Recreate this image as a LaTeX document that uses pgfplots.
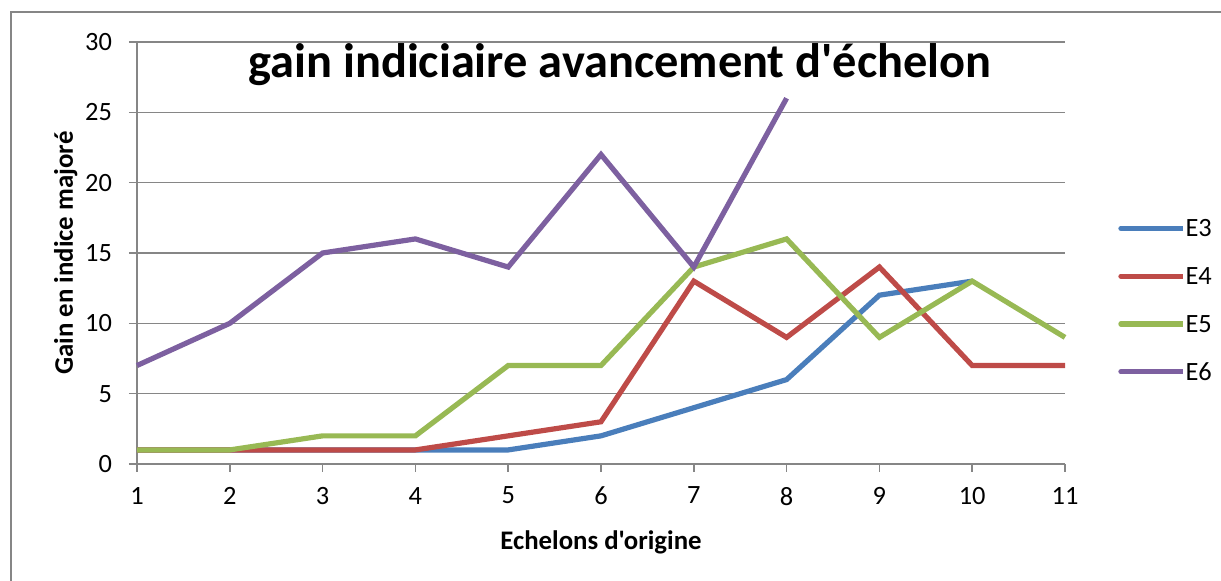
\documentclass[border=0pt]{standalone}
\usepackage{fontspec}
\setmainfont{Carlito}[Ligatures=TeXOff]
\usepackage{pgfplots}
\pgfplotsset{compat=1.18}
\definecolor{cE3}{HTML}{4A7EBB}
\definecolor{cE4}{HTML}{BE4B48}
\definecolor{cE5}{HTML}{98B954}
\definecolor{cE6}{HTML}{7D60A0}
\definecolor{gridg}{HTML}{868686}
\begin{document}
\begin{tikzpicture}
\path[use as bounding box] (0pt,0pt) rectangle (610.5pt,290.5pt);
\draw[gridg,line width=1pt] (5.5pt,0pt) -- (5.5pt,284.5pt) -- (610.5pt,284.5pt);
\begin{axis}[
  at={(68.5pt,58.5pt)}, anchor=origin,
  scale only axis, width=464pt, height=211pt,
  xmin=1, xmax=11, ymin=0, ymax=30,
  xtick={1,...,11}, ytick={0,5,...,30},
  axis x line*=bottom, axis y line*=left,
  axis line style={gridg, line width=0.8pt, -},
  ymajorgrids, grid style={gridg, line width=0.8pt},
  tick style={gridg, line width=0.8pt},
  tick align=outside, major tick length=4pt,
  /pgf/number format/assume math mode=true,
  ticklabel style={font=\fontsize{13.2}{15}\selectfont},
  xticklabel style={yshift=-4pt},
  yticklabel style={xshift=-5pt},
  xlabel={\bfseries Echelons d'origine}, xlabel style={font=\fontsize{13.4}{15}\selectfont, yshift=-6pt},
  ylabel={\bfseries Gain en indice majoré}, ylabel style={font=\fontsize{13.4}{15}\selectfont, yshift=-3pt},
  clip=false,
  legend style={at={(1.057,0.616)}, anchor=north west, draw=none, fill=none, inner sep=0pt,
    font=\fontsize{13.2}{15}\selectfont, row sep=0pt,
    nodes={inner sep=0pt, minimum height=23.9pt, text depth=0pt}},
  legend cell align=left,
  legend image code/.code={\draw[#1, line cap=round] (0pt,0pt) -- (28pt,0pt);
    \path (0pt,0pt) -- (31pt,0pt);},
  every axis plot/.append style={line width=2.6pt, line join=miter},
]
\addplot[cE3] coordinates {(1,1)(2,1)(3,1)(4,1)(5,1)(6,2)(7,4)(8,6)(9,12)(10,13)};
\addlegendentry{E3}
\addplot[cE4] coordinates {(1,1)(2,1)(3,1)(4,1)(5,2)(6,3)(7,13)(8,9)(9,14)(10,7)(11,7)};
\addlegendentry{E4}
\addplot[cE5] coordinates {(1,1)(2,1)(3,2)(4,2)(5,7)(6,7)(7,14)(8,16)(9,9)(10,13)(11,9)};
\addlegendentry{E5}
\addplot[cE6] coordinates {(1,7)(2,10)(3,15)(4,16)(5,14)(6,22)(7,14)(8,26)};
\addlegendentry{E6}
\end{axis}
\node[font=\fontsize{24.2}{28}\selectfont\bfseries] at (310pt,258pt) {gain indiciaire avancement d'échelon};
\end{tikzpicture}
\end{document}
